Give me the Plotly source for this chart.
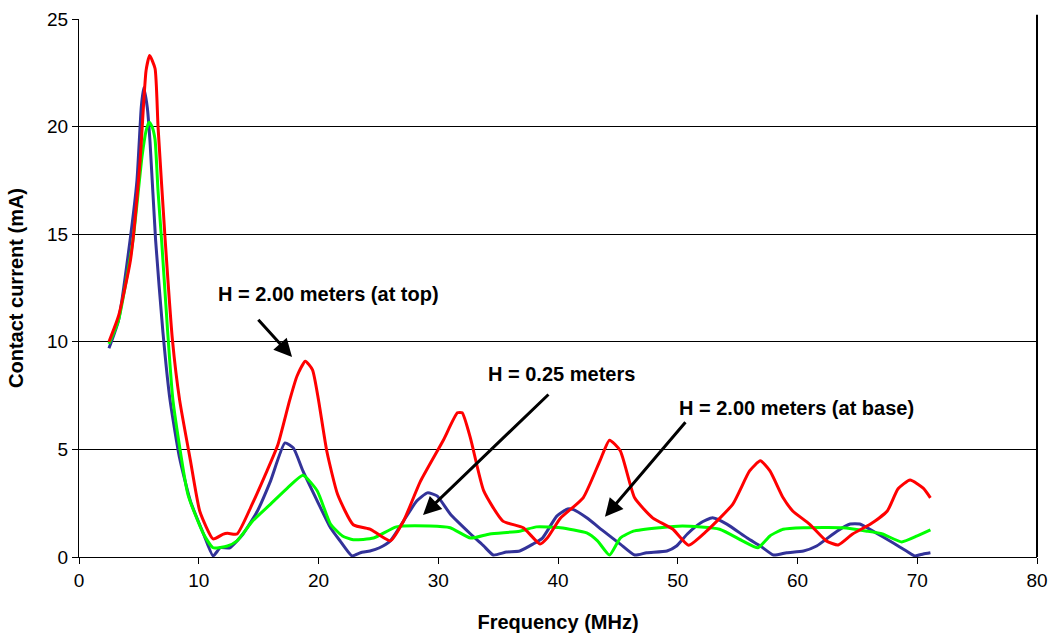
import plotly.graph_objects as go

# Frequency sweep (MHz) and contact current (mA) for three probe heights
freq_top = [2.5, 3.3, 4.3, 5.1, 5.6, 5.9, 6.35, 6.6, 7.2, 7.8, 8.4, 9.3, 10.1, 11.2, 12.0, 12.4, 13.2,
            14.5, 15.7, 16.6, 17.6, 18.2, 18.9, 19.5, 20.0, 20.7, 21.6, 22.9, 24.3, 24.6, 26.0, 27.1,
            28.5, 30.4, 31.6, 32.0, 32.7, 33.8, 35.4, 37.1, 38.5, 39.1, 40.2, 42.1, 43.5, 44.3, 45.2,
            46.4, 47.9, 49.6, 50.9, 52.4, 54.6, 56.0, 56.9, 57.7, 58.8, 59.6, 61.0, 62.4, 63.4, 64.6,
            66.1, 67.5, 68.4, 69.4, 70.5, 71.1]
current_top = [10.0, 11.2, 13.8, 18.4, 22.6, 23.3, 22.7, 20.0, 14.7, 10.1, 7.3, 4.5, 2.1, 0.84, 1.05, 1.1, 1.07,
               2.5, 4.0, 5.2, 7.3, 8.4, 9.1, 8.7, 7.3, 4.9, 2.9, 1.5, 1.3, 1.2, 0.75, 1.67,
               3.5, 5.4, 6.7, 6.7, 5.5, 3.07, 1.67, 1.36, 0.6, 0.88, 1.8, 2.75, 4.47, 5.43, 4.94,
               2.75, 1.82, 1.29, 0.55, 1.2, 2.46, 4.0, 4.47, 4.0, 2.75, 2.14, 1.53, 0.75, 0.56, 1.07,
               1.53, 2.14, 3.17, 3.58, 3.2, 2.75]

freq_025 = [2.5, 3.3, 4.26, 4.84, 5.2, 5.4, 5.7, 5.93, 6.4, 7.0, 7.6, 8.4, 9.3, 10.4, 11.2, 11.8, 12.6,
            13.7, 14.9, 16.0, 17.2, 17.9, 18.7, 19.9, 21.0, 21.8, 22.8, 23.5, 24.3, 25.1, 26.0, 27.1,
            28.2, 29.1, 29.9, 31.0, 32.7, 33.8, 34.6, 35.7, 36.8, 37.9, 38.7, 39.9, 40.8, 41.3, 42.4,
            43.8, 45.2, 46.4, 47.4, 49.1, 49.9, 50.8, 51.9, 52.9, 54.1, 55.8, 56.9, 58.0, 59.1, 60.5,
            61.6, 63.3, 64.4, 65.2, 66.3, 68.0, 69.1, 69.8, 70.5, 71.1]
current_025 = [9.7, 11.0, 14.7, 17.5, 20.9, 21.8, 20.9, 19.3, 14.7, 10.5, 7.3, 4.6, 2.6, 1.07, 0.05, 0.43, 0.43,
               1.07, 2.14, 3.54, 5.3, 5.07, 4.0, 2.6, 1.36, 0.75, 0.05, 0.2, 0.28, 0.43, 0.75, 1.67,
               2.6, 2.98, 2.84, 2.0, 1.07, 0.51, 0.09, 0.23, 0.28, 0.6, 0.88, 1.9, 2.23, 2.2, 1.82,
               1.2, 0.6, 0.09, 0.2, 0.28, 0.51, 1.07, 1.58, 1.82, 1.53, 0.88, 0.51, 0.09, 0.2, 0.28,
               0.51, 1.2, 1.53, 1.53, 1.2, 0.65, 0.28, 0.05, 0.14, 0.2]

freq_base = [2.5, 3.3, 4.5, 5.26, 5.6, 5.85, 6.1, 6.35, 6.6, 6.9, 7.4, 7.85, 9.1, 10.4, 11.2, 12.4, 13.2,
             14.5, 16.0, 17.4, 18.7, 19.9, 21.0, 22.0, 22.9, 24.6, 26.5, 29.3, 31.0, 32.7, 34.3, 36.8,
             38.2, 40.2, 42.4, 43.3, 44.3, 45.2, 46.3, 48.5, 50.4, 53.5, 55.4, 56.7, 57.7, 58.8, 60.5,
             63.8, 65.8, 67.1, 68.7, 70.0, 71.1]
current_base = [9.9, 11.0, 14.7, 18.6, 19.8, 20.2, 20.0, 19.4, 17.0, 14.7, 10.5, 7.26, 2.9, 1.07, 0.43, 0.51, 0.75,
                1.67, 2.46, 3.2, 3.8, 3.07, 1.53, 0.98, 0.8, 0.88, 1.4, 1.44, 1.36, 0.88, 1.07, 1.2,
                1.4, 1.36, 1.12, 0.75, 0.09, 0.88, 1.2, 1.36, 1.44, 1.29, 0.75, 0.43, 0.98, 1.29, 1.36,
                1.36, 1.2, 1.07, 0.7, 0.98, 1.26]

x_ticks = [0, 10, 20, 30, 40, 50, 60, 70, 80]
y_ticks = [0, 5, 10, 15, 20, 25]

FONT = "Arial, Liberation Sans, sans-serif"

fig = go.Figure()
series = [
    (freq_025, current_025, "#333399", "H = 0.25 meters"),
    (freq_base, current_base, "#00FF00", "H = 2.00 meters (at base)"),
    (freq_top, current_top, "#FF0000", "H = 2.00 meters (at top)"),
]
for xs, ys, color, name in series:
    fig.add_trace(go.Scatter(x=xs, y=ys, mode="lines", name=name,
                             line=dict(color=color, width=3, shape="spline", smoothing=0.5)))

# Labels for each curve
labels = [
    ("H = 2.00 meters (at top)", 20.8, 12.2),
    ("H = 0.25 meters", 40.3, 8.5),
    ("H = 2.00 meters (at base)", 59.9, 6.92),
]
for text, lx, ly in labels:
    fig.add_annotation(x=lx, y=ly, text="<b>%s</b>" % text, showarrow=False,
                       font=dict(family=FONT, size=20, color="black"))

# Arrows pointing at each curve: (tail x, tail y, head x, head y)
arrows = [
    (14.86, 11.1, 17.79, 9.29),
    (39.33, 7.62, 28.73, 1.95),
    (50.75, 6.33, 43.92, 1.87),
]
for tx, ty, hx, hy in arrows:
    fig.add_annotation(x=hx, y=hy, ax=tx, ay=ty, xref="x", yref="y", axref="x", ayref="y",
                       text="", showarrow=True, arrowhead=2, arrowsize=1.2, arrowwidth=3,
                       arrowcolor="black")

# Right-hand frame edge
fig.add_shape(type="line", xref="paper", yref="paper", x0=1, x1=1, y0=0, y1=1.008,
              line=dict(color="black", width=2))

fig.update_layout(
    width=1050, height=635,
    margin=dict(l=79, r=13, t=19, b=78, autoexpand=False),
    paper_bgcolor="white", plot_bgcolor="white",
    showlegend=False,
    font=dict(family=FONT, size=19, color="black"),
)
fig.update_xaxes(range=[0, 80], tickvals=x_ticks, ticks="outside", ticklen=6, tickcolor="black",
                 showline=True, linecolor="black", linewidth=1, showgrid=False, zeroline=False,
                 automargin=False,
                 title=dict(text="<b>Frequency (MHz)</b>", font=dict(size=20), standoff=25),
                 tickfont=dict(size=19))
fig.update_yaxes(range=[0, 25], tickvals=y_ticks, ticks="outside", ticklen=6, tickcolor="black",
                 showline=True, linecolor="black", linewidth=1, showgrid=True, gridcolor="black",
                 gridwidth=1, zeroline=False, automargin=False,
                 title=dict(text="<b>Contact current (mA)</b>", font=dict(size=20), standoff=18),
                 tickfont=dict(size=19))

fig.write_html("out.html")
